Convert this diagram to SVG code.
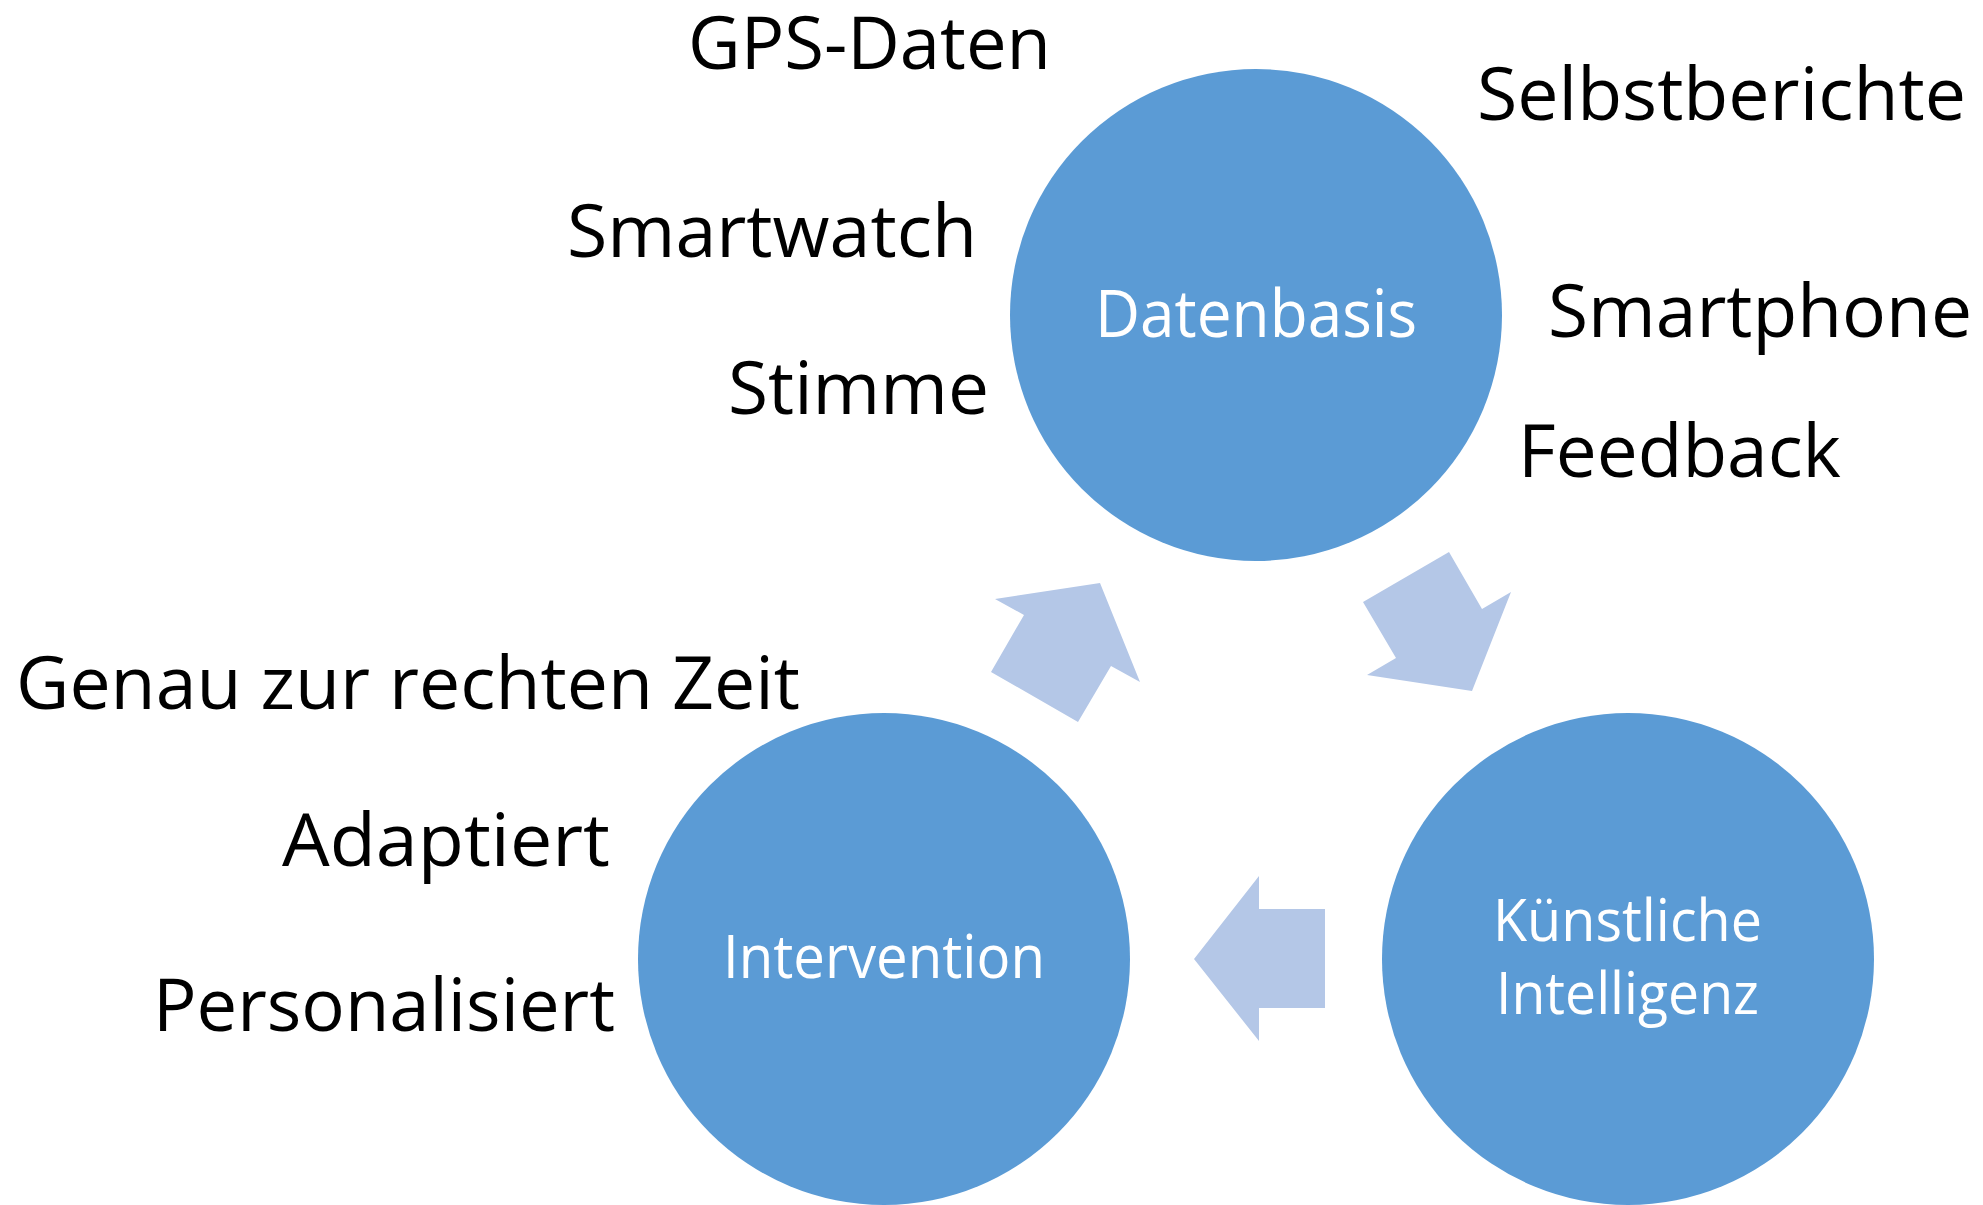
<svg xmlns="http://www.w3.org/2000/svg" width="1983" height="1205" viewBox="0 0 1983 1205">
<style>
.circle{fill:#5B9BD5}
.arrow{fill:#B4C7E7}
.outer{font-family:"Open Sans","Liberation Sans",sans-serif;font-size:73px;fill:#000000}
.inner{font-family:"Open Sans","Liberation Sans",sans-serif;fill:#FFFFFF}
</style>
<rect x="0" y="0" width="1983" height="1205" fill="#FFFFFF"/>
<g id="connectors">
<polygon class="arrow" points="995,599 1100,583 1140,682 1111,666 1078,722 991,672 1024,615"/>
<polygon class="arrow" points="1363,602 1449,552 1482,609 1511,592 1472,691 1367,675 1396,658"/>
<polygon class="arrow" points="1194,959 1259,876 1259,909 1325,909 1325,1008 1259,1008 1259,1041"/>
</g>
<g id="node-datenbasis">
<circle class="circle" cx="1256" cy="315" r="246"/>
<text class="inner" x="1095" y="337" font-size="65" textLength="322" lengthAdjust="spacingAndGlyphs">Datenbasis</text>
</g>
<g id="node-intervention">
<circle class="circle" cx="884" cy="959" r="246"/>
<text class="inner" x="723" y="978" font-size="60" textLength="322" lengthAdjust="spacingAndGlyphs">Intervention</text>
</g>
<g id="node-ki">
<circle class="circle" cx="1628" cy="959" r="246"/>
<text class="inner" x="1493" y="941" font-size="58" textLength="269" lengthAdjust="spacingAndGlyphs">Künstliche</text>
<text class="inner" x="1496" y="1014" font-size="58" textLength="263" lengthAdjust="spacingAndGlyphs">Intelligenz</text>
</g>
<g id="labels-datenbasis">
<text class="outer" x="688" y="69" textLength="363" lengthAdjust="spacingAndGlyphs">GPS-Daten</text>
<text class="outer" x="1477" y="120" textLength="489" lengthAdjust="spacingAndGlyphs">Selbstberichte</text>
<text class="outer" x="567" y="257" textLength="410" lengthAdjust="spacingAndGlyphs">Smartwatch</text>
<text class="outer" x="1548" y="337" textLength="424" lengthAdjust="spacingAndGlyphs">Smartphone</text>
<text class="outer" x="728" y="414" textLength="261" lengthAdjust="spacingAndGlyphs">Stimme</text>
<text class="outer" x="1518" y="477" textLength="323" lengthAdjust="spacingAndGlyphs">Feedback</text>
</g>
<g id="labels-intervention">
<text class="outer" x="16" y="709" textLength="784" lengthAdjust="spacingAndGlyphs">Genau zur rechten Zeit</text>
<text class="outer" x="282" y="866" textLength="328" lengthAdjust="spacingAndGlyphs">Adaptiert</text>
<text class="outer" x="153" y="1031" textLength="462" lengthAdjust="spacingAndGlyphs">Personalisiert</text>
</g>
</svg>
